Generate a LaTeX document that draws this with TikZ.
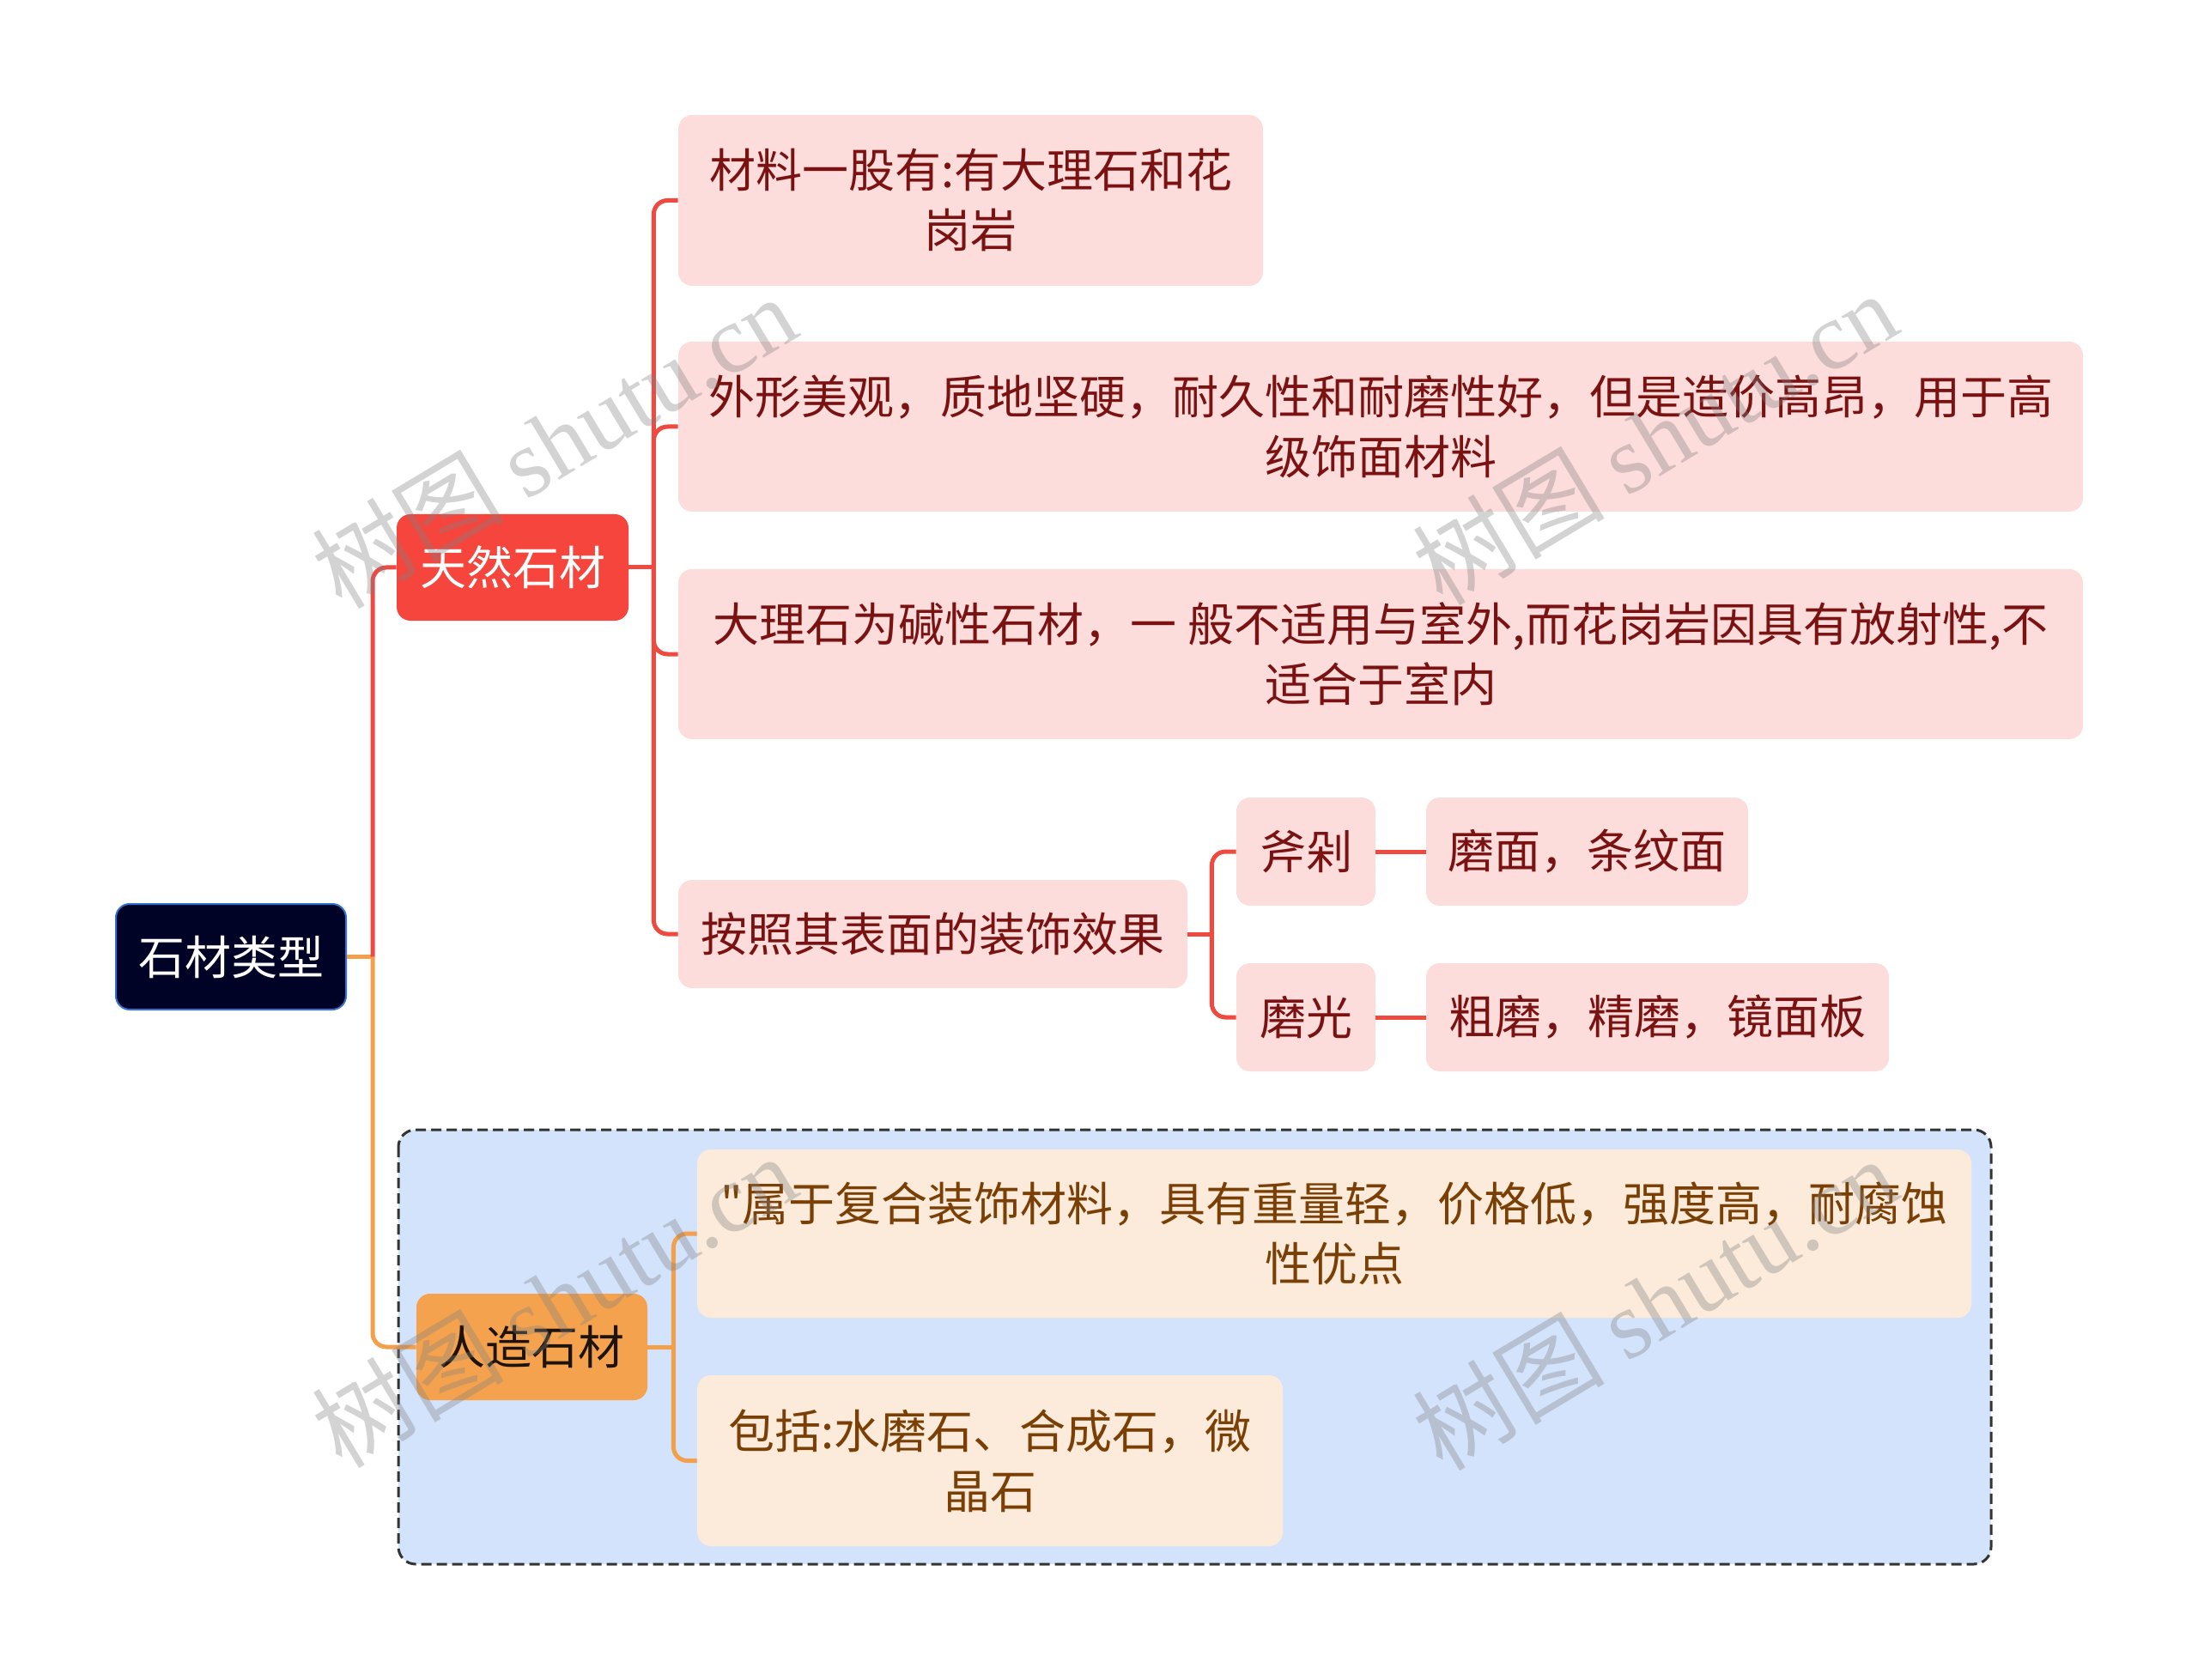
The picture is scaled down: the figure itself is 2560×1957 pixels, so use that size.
\documentclass[tikz,border=0pt]{standalone}
\usepackage{fontspec}
\setmainfont{Noto Sans CJK SC}
\newfontfamily\qfont{Noto Sans CJK SC}[Ligatures=TeXOff]
\newfontfamily\wmserif{Liberation Serif}
\usetikzlibrary{calc}
\definecolor{redline}{HTML}{EE4A40}
\definecolor{redfill}{HTML}{F5453C}
\definecolor{pinkfill}{HTML}{FDDCDC}
\definecolor{redtext}{HTML}{7A1212}
\definecolor{orline}{HTML}{F2A04C}
\definecolor{orfill}{HTML}{F5A24E}
\definecolor{creamfill}{HTML}{FCEBDA}
\definecolor{browntext}{HTML}{7A3F05}
\definecolor{bluebg}{HTML}{D4E3FC}
\definecolor{rootfill}{HTML}{000226}
\definecolor{rootborder}{HTML}{3470D0}
\tikzset{
  base/.style={rectangle, rounded corners=8pt, align=center, inner sep=0pt,
    font=\fontsize{27}{35}\selectfont},
  rootbox/.style={base, fill=rootfill, draw=rootborder, line width=1pt, text=white},
  redbox/.style={base, fill=redfill, text=white},
  orbox/.style={base, fill=orfill, text=black!85!brown},
  pinkbox/.style={base, fill=pinkfill, text=redtext},
  creambox/.style={base, fill=creamfill, text=browntext},
  rline/.style={draw=redline, line width=2.5pt, rounded corners=8pt},
  oline/.style={draw=orline, line width=2.5pt, rounded corners=8pt},
  wm/.style={text=gray, opacity=0.35, rotate=31, font=\fontsize{56}{56}\selectfont, inner sep=0pt}
}
\begin{document}
\begin{tikzpicture}[x=0.5pt,y=-0.5pt]
\useasboundingbox (0,0) rectangle (2560,1957);
% dashed region
\draw[fill=bluebg, draw=black!80, line width=1.5pt, dash pattern=on 6pt off 3pt, rounded corners=10pt]
  (464,1316) rectangle (2319,1822);
% nodes
\node[rootbox, minimum width=134pt, minimum height=61.5pt] (root) at (269,1114.5) {石材类型};
\node[redbox, minimum width=135pt, minimum height=62pt] (tr) at (597,661) {天然石材};
\node[orbox, minimum width=134.5pt, minimum height=62pt] (rz) at (619.5,1569) {人造石材};
\node[pinkbox, minimum width=340.5pt, minimum height=99.5pt] (a1) at (1130.5,233.5) {材料一股有:有大理石和花\\岗岩};
\node[pinkbox, minimum width=818pt, minimum height=99pt] (a2) at (1608,497) {外形美观，质地坚硬，耐久性和耐磨性好，但是造价高昂，用于高\\级饰面材料};
\node[pinkbox, minimum width=818pt, minimum height=99pt] (a3) at (1608,762) {大理石为碱性石材，一 般不适用与室外,而花岗岩因具有放射性,不\\适合于室内};
\node[pinkbox, minimum width=296.5pt, minimum height=63pt] (a4) at (1086.5,1088) {按照其表面的装饰效果};
\node[pinkbox, minimum width=81pt, minimum height=63pt] (b1) at (1521,992) {斧剁};
\node[pinkbox, minimum width=81pt, minimum height=63pt] (b2) at (1521,1185) {磨光};
\node[pinkbox, minimum width=187.5pt, minimum height=63pt] (c1) at (1848.5,992) {磨面，条纹面};
\node[pinkbox, minimum width=269.5pt, minimum height=63pt] (c2) at (1930.5,1185) {粗磨，精磨，镜面板};
\node[creambox, minimum width=742pt, minimum height=98pt] (d1) at (1554,1437) {{\qfont"}属于复合装饰材料，具有重量轻，价格低，强度高，耐腐蚀\\性优点};
\node[creambox, minimum width=341pt, minimum height=99.5pt] (d2) at (1153,1701.5) {包括:水磨石、合成石，微\\晶石};
% junctions
\coordinate (jr) at ($(root.east)+(15pt,0)$);
\coordinate (jt) at ($(tr.east)+(14.5pt,0)$);
\coordinate (ja) at ($(a4.east)+(14pt,0)$);
\coordinate (jz) at ($(rz.east)+(15pt,0)$);
% connectors
\draw[oline] (root.east) -- (jr);
\draw[oline] (jr) |- (rz.west);
\draw[rline] (jr) |- (tr.west);
\draw[rline] (tr.east) -- (jt);
\draw[rline] (jt) |- (a1.west);
\draw[rline] (jt) |- (a2.west);
\draw[rline] (jt) |- (a3.west);
\draw[rline] (jt) |- (a4.west);
\draw[rline] (a4.east) -- (ja);
\draw[rline] (ja) |- (b1.west);
\draw[rline] (ja) |- (b2.west);
\draw[rline] (b1.east) -- (c1.west);
\draw[rline] (b2.east) -- (c2.west);
\draw[oline] (rz.east) -- (jz);
\draw[oline] (jz) |- (d1.west);
\draw[oline] (jz) |- (d2.west);
% watermarks
\node[wm] (w1) at (645,514) {树图 {\wmserif shutu.cn}};
\node[wm] (w2) at (1927,510) {树图 {\wmserif shutu.cn}};
\node[wm] (w3) at (645,1515) {树图 {\wmserif shutu.cn}};
\node[wm] (w4) at (1927,1518) {树图 {\wmserif shutu.cn}};
\end{tikzpicture}
\end{document}
